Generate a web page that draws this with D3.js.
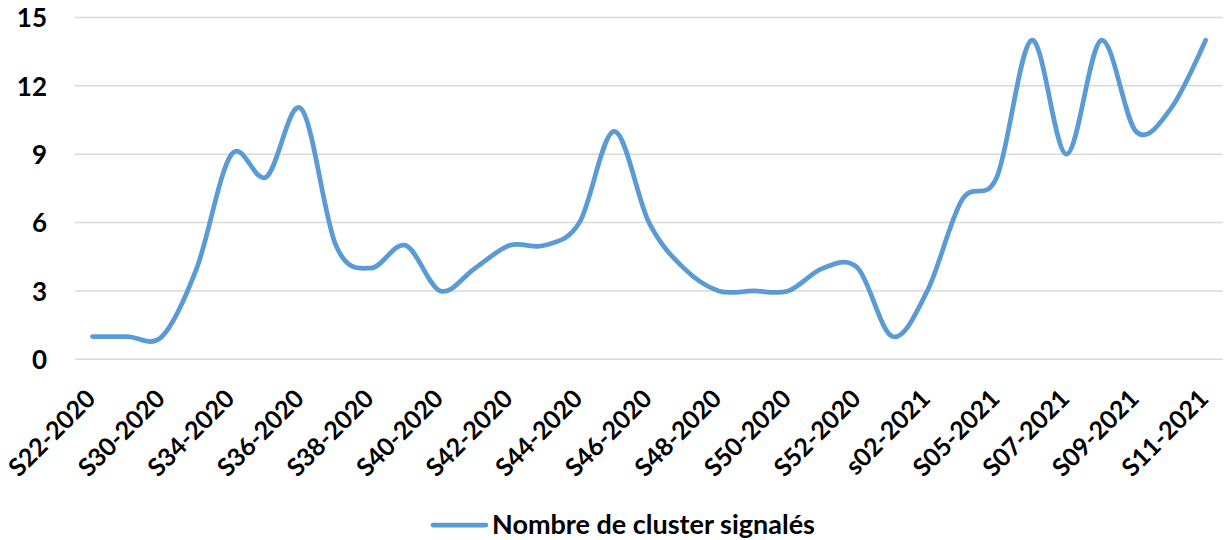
<!DOCTYPE html>
<html>
<head>
<meta charset="utf-8">
<script src="https://cdn.jsdelivr.net/npm/d3@7"></script>
<style>
  body { margin: 0; background: #fff; }
  text { font-family: Lato, "Open Sans", sans-serif; font-weight: bold; fill: #000; }
</style>
</head>
<body>
<div id="chart"></div>
<script>
// weeks (only every other one gets a label on the axis)
var weeks = ["S22-2020", "S29-2020", "S30-2020", "S33-2020", "S34-2020", "S35-2020",
  "S36-2020", "S37-2020", "S38-2020", "S39-2020", "S40-2020", "S41-2020",
  "S42-2020", "S43-2020", "S44-2020", "S45-2020", "S46-2020", "S47-2020",
  "S48-2020", "S49-2020", "S50-2020", "S51-2020", "S52-2020", "S53-2020",
  "s02-2021", "S03-2021", "S05-2021", "S06-2021", "S07-2021", "S08-2021",
  "S09-2021", "S10-2021", "S11-2021"];

var clusters = [1, 1, 1, 4, 9, 8, 11, 5, 4, 5, 3, 4, 5, 5, 6, 10, 6, 4,
  3, 3, 3, 4, 4, 1, 3, 7, 8, 14, 9, 14, 10, 11, 14];

var yTicks = [0, 3, 6, 9, 12, 15];
var seriesName = "Nombre de cluster signalés";

var width = 1225, height = 540;
var plot = {left: 75, right: 1223, top: 17.5, bottom: 359.3};

var svg = d3.select("#chart")
  .append("svg")
    .attr("width", width)
    .attr("height", height);

// scales
var x = d3.scalePoint()
  .domain(weeks)
  .range([plot.left, plot.right])
  .padding(0.5);

var y = d3.scaleLinear()
  .domain([0, 15])
  .range([plot.bottom, plot.top]);

// gridlines
svg.append("g")
  .selectAll("line")
  .data(yTicks)
  .enter()
  .append("line")
    .attr("x1", plot.left)
    .attr("x2", plot.right)
    .attr("y1", function(d) { return y(d); })
    .attr("y2", function(d) { return y(d); })
    .attr("stroke", "#d9d9d9")
    .attr("stroke-width", 1.5);

// y axis labels
var yAxis = svg.append("g")
  .attr("transform", "translate(47,0)")
  .call(d3.axisLeft(y).tickValues(yTicks).tickSize(0).tickPadding(0));
yAxis.select(".domain").remove();
yAxis.selectAll("text")
  .style("font-size", "26px")
  .attr("dy", "0.36em");

// x axis labels, every second week
var xAxis = svg.append("g")
  .attr("transform", "translate(0," + plot.bottom + ")")
  .call(d3.axisBottom(x)
    .tickValues(weeks.filter(function(d, i) { return i % 2 === 0; }))
    .tickSize(0));
xAxis.select(".domain").remove();
xAxis.selectAll("text")
  .style("font-size", "25px")
  .attr("text-anchor", "end")
  .attr("dy", null)
  .attr("y", null)
  .attr("transform", "translate(4,41) rotate(-45)");

// the line
var line = d3.line()
  .x(function(d, i) { return x(weeks[i]); })
  .y(function(d) { return y(d); })
  .curve(d3.curveCardinal.tension(0));

svg.append("path")
  .datum(clusters)
  .attr("d", line)
  .attr("fill", "none")
  .attr("stroke", "#5b9bd5")
  .attr("stroke-width", 4.75)
  .attr("stroke-linecap", "round")
  .attr("stroke-linejoin", "round");

// legend
svg.append("line")
  .attr("x1", 433)
  .attr("x2", 486)
  .attr("y1", 525)
  .attr("y2", 525)
  .attr("stroke", "#5b9bd5")
  .attr("stroke-width", 4.75)
  .attr("stroke-linecap", "round");

svg.append("text")
  .attr("x", 492)
  .attr("y", 534)
  .style("font-size", "27px")
  .text(seriesName);
</script>
</body>
</html>
